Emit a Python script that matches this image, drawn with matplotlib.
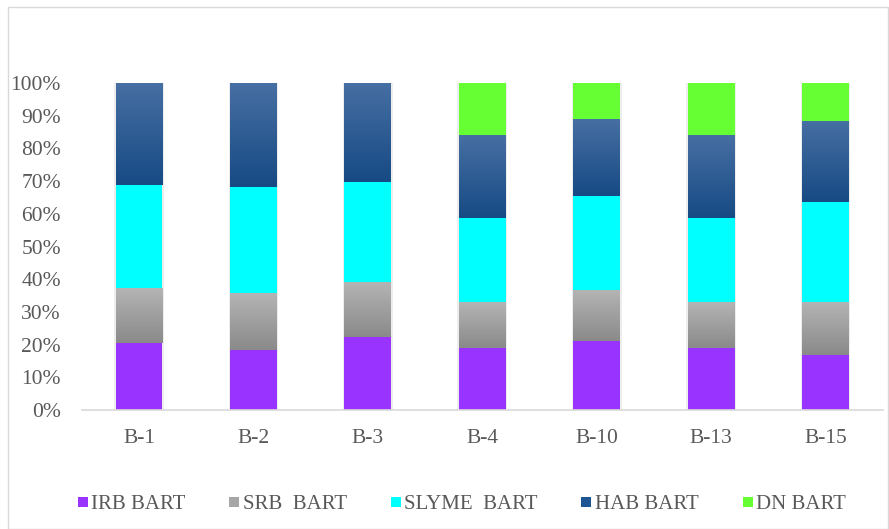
import numpy as np
import matplotlib
matplotlib.use("Agg")
import matplotlib.pyplot as plt
from matplotlib.colors import LinearSegmentedColormap
from matplotlib.lines import Line2D
from matplotlib.patches import Rectangle

# sample sites and share of each BART group (percent)
sites = ["B-1", "B-2", "B-3", "B-4", "B-10", "B-13", "B-15"]
irb = [20.4, 18.3, 22.4, 18.9, 21.2, 18.9, 16.8]
srb = [16.8, 17.4, 16.7, 14.0, 15.4, 14.0, 16.3]
slyme = [31.6, 32.6, 30.5, 25.9, 28.9, 25.9, 30.4]
hab = [31.2, 31.7, 30.4, 25.3, 23.5, 25.3, 25.0]
dn = [0.0, 0.0, 0.0, 15.9, 11.0, 15.9, 11.5]

labels = ["IRB BART", "SRB  BART", "SLYME  BART", "HAB BART", "DN BART"]
colors = ["#9933ff", "#a6a6a6", "#00ffff", "#1f5592", "#66ff33"]
# vertical gradients (top colour, bottom colour) for the shaded series
grads = {1: ("#b4b4b4", "#8a8a8a"), 3: ("#466fa3", "#174a84")}

txt = "#595959"
plt.rcParams["font.family"] = ["Liberation Serif", "DejaVu Serif"]

fig = plt.figure(figsize=(8.89, 5.29), dpi=100)
fig.patches.append(Rectangle((0.009, 0.0), 0.99, 0.986, transform=fig.transFigure,
                             fill=False, edgecolor="#d9d9d9", lw=1.0))
ax = fig.add_axes([0.092, 0.225, 0.901, 0.618])

series = [irb, srb, slyme, hab, dn]
x = np.arange(len(sites))
w = 0.41
bottom = np.zeros(len(sites))
for k, vals in enumerate(series):
    vals = np.array(vals)
    if k in grads:
        bars = ax.bar(x, vals, w, bottom=bottom, color="none", lw=0, zorder=2)
        cmap = LinearSegmentedColormap.from_list("g%d" % k, [grads[k][1], grads[k][0]])
        for b in bars:
            if b.get_height() <= 0:
                continue
            x0, y0 = b.get_x(), b.get_y()
            im = ax.imshow(np.linspace(0, 1, 64).reshape(-1, 1), cmap=cmap,
                           extent=[x0, x0 + b.get_width(), y0, y0 + b.get_height()],
                           origin="lower", aspect="auto", zorder=2)
            im.set_clip_path(b)
    else:
        ax.bar(x, vals, w, bottom=bottom, color=colors[k], lw=0, zorder=2)
    bottom += vals

# faint shadow along the bar edges
for xi in x:
    ax.add_patch(Rectangle((xi - w / 2 - 0.012, 0), w + 0.024, 100.4, color="#000000",
                           alpha=0.07, lw=0, zorder=1))

ax.set_xlim(-0.5, len(sites) - 0.5)
ax.set_ylim(0, 100)
ax.set_yticks(np.arange(0, 101, 10))
ax.set_yticklabels(["%d%%" % v for v in range(0, 101, 10)])
ax.set_xticks(x)
ax.set_xticklabels(sites)
ax.tick_params(axis="both", length=0, labelsize=15.5, labelcolor=txt)
ax.tick_params(axis="x", pad=14)
ax.tick_params(axis="y", pad=15)
for side in ["top", "right", "left"]:
    ax.spines[side].set_visible(False)
ax.spines["bottom"].set_color("#d9d9d9")
ax.spines["bottom"].set_linewidth(1.2)

handles = [Line2D([], [], marker="s", ls="none", markersize=7,
                  markerfacecolor=c, markeredgewidth=0) for c in colors]
fig.legend(handles, labels, loc="center", bbox_to_anchor=(0.518, 0.047), ncol=5,
           frameon=False, fontsize=15, labelcolor=txt, handletextpad=0.05,
           columnspacing=2.0, handlelength=0.7)

fig.savefig("out.png", dpi=100)
